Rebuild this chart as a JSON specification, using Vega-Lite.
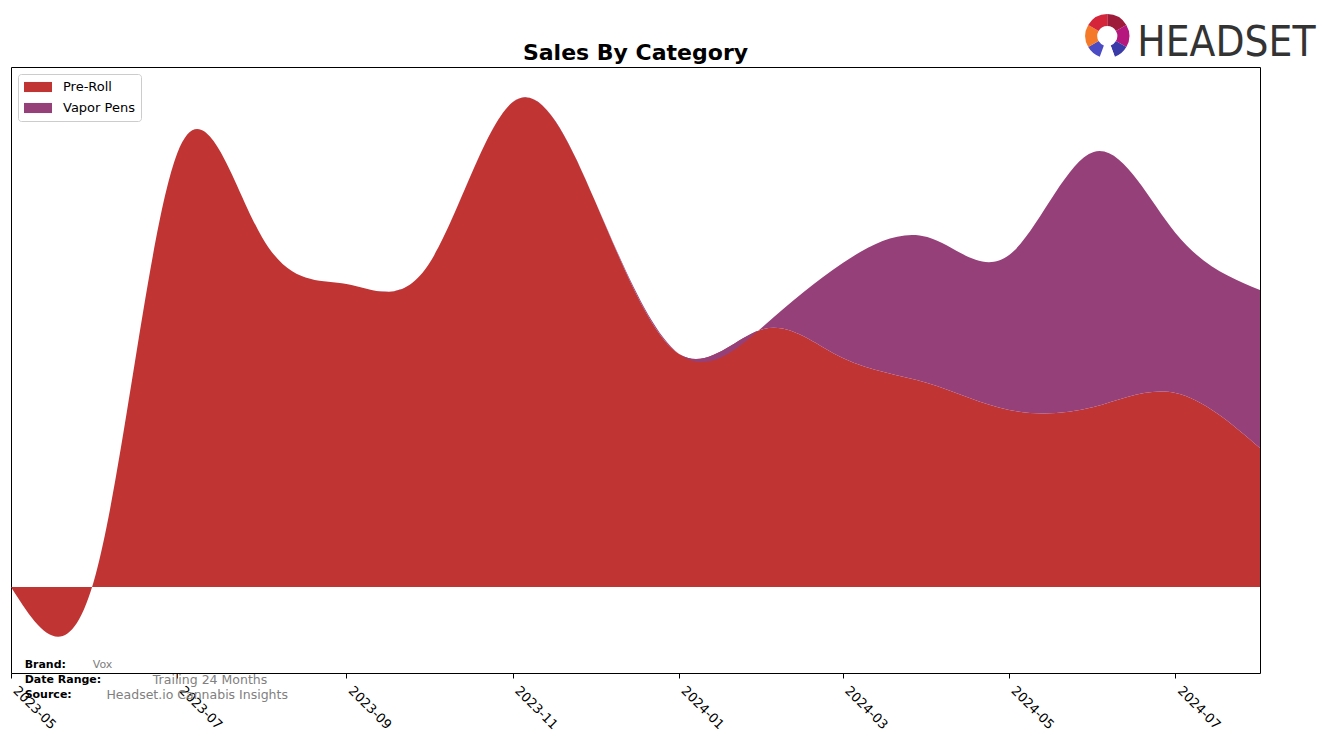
{
  "$schema": "https://vega.github.io/schema/vega-lite/v6.json",
  "width": 1249,
  "height": 606,
  "autosize": "none",
  "padding": {"left": 11, "top": 67, "right": 64, "bottom": 70},
  "background": "white",
  "title": {"text": "Sales By Category", "fontSize": 22, "font": "DejaVu Sans", "fontWeight": "bold", "offset": 6, "dy": 57, "anchor": "middle", "frame": "group", "color": "black"},
  "config": {
    "view": {"stroke": "black", "strokeWidth": 1},
    "font": "DejaVu Sans"
  },
  "data": {
    "values": [
      {"month": "2023-05-01", "category": "Pre-Roll", "sales": 0},
      {"month": "2023-06-01", "category": "Pre-Roll", "sales": 12},
      {"month": "2023-07-01", "category": "Pre-Roll", "sales": 434},
      {"month": "2023-08-01", "category": "Pre-Roll", "sales": 350},
      {"month": "2023-09-01", "category": "Pre-Roll", "sales": 303},
      {"month": "2023-10-01", "category": "Pre-Roll", "sales": 322},
      {"month": "2023-11-01", "category": "Pre-Roll", "sales": 485},
      {"month": "2023-12-01", "category": "Pre-Roll", "sales": 387},
      {"month": "2024-01-01", "category": "Pre-Roll", "sales": 233},
      {"month": "2024-02-01", "category": "Pre-Roll", "sales": 258},
      {"month": "2024-03-01", "category": "Pre-Roll", "sales": 229},
      {"month": "2024-04-01", "category": "Pre-Roll", "sales": 204},
      {"month": "2024-05-01", "category": "Pre-Roll", "sales": 177},
      {"month": "2024-06-01", "category": "Pre-Roll", "sales": 180},
      {"month": "2024-07-01", "category": "Pre-Roll", "sales": 194},
      {"month": "2024-08-01", "category": "Pre-Roll", "sales": 139},
      {"month": "2023-05-01", "category": "Vapor Pens", "sales": 0},
      {"month": "2023-06-01", "category": "Vapor Pens", "sales": 0},
      {"month": "2023-07-01", "category": "Vapor Pens", "sales": 0},
      {"month": "2023-08-01", "category": "Vapor Pens", "sales": 0},
      {"month": "2023-09-01", "category": "Vapor Pens", "sales": 0},
      {"month": "2023-10-01", "category": "Vapor Pens", "sales": 0},
      {"month": "2023-11-01", "category": "Vapor Pens", "sales": 0},
      {"month": "2023-12-01", "category": "Vapor Pens", "sales": 0},
      {"month": "2024-01-01", "category": "Vapor Pens", "sales": 0},
      {"month": "2024-02-01", "category": "Vapor Pens", "sales": 3},
      {"month": "2024-03-01", "category": "Vapor Pens", "sales": 95},
      {"month": "2024-04-01", "category": "Vapor Pens", "sales": 146},
      {"month": "2024-05-01", "category": "Vapor Pens", "sales": 155},
      {"month": "2024-06-01", "category": "Vapor Pens", "sales": 255},
      {"month": "2024-07-01", "category": "Vapor Pens", "sales": 160},
      {"month": "2024-08-01", "category": "Vapor Pens", "sales": 158}
    ]
  },
  "layer": [
    {
      "mark": {"type": "area", "interpolate": "natural"},
      "encoding": {
        "x": {
          "field": "month", "type": "temporal",
          "scale": {"type": "utc", "domain": [{"year": 2023, "month": 5, "date": 1, "utc": true}, {"year": 2024, "month": 8, "date": 1, "utc": true}]},
          "axis": {
            "title": null,
            "values": [
              {"year": 2023, "month": 5, "date": 1, "utc": true},
              {"year": 2023, "month": 7, "date": 1, "utc": true},
              {"year": 2023, "month": 9, "date": 1, "utc": true},
              {"year": 2023, "month": 11, "date": 1, "utc": true},
              {"year": 2024, "month": 1, "date": 1, "utc": true},
              {"year": 2024, "month": 3, "date": 1, "utc": true},
              {"year": 2024, "month": 5, "date": 1, "utc": true},
              {"year": 2024, "month": 7, "date": 1, "utc": true}
            ],
            "format": "%Y-%m",
            "labelAngle": 45, "labelAlign": "left", "labelBaseline": "top",
            "labelFontSize": 13, "labelFont": "DejaVu Sans", "labelColor": "black",
            "labelPadding": 6, "labelOffset": 8,
            "tickSize": 5, "tickColor": "black", "domain": false, "grid": false,
            "labelOverlap": false, "labelFlush": false
          }
        },
        "y": {
          "field": "sales", "type": "quantitative", "stack": "zero",
          "scale": {"domain": [-86, 520], "nice": false, "zero": false},
          "axis": null
        },
        "color": {
          "field": "category", "type": "nominal",
          "scale": {"domain": ["Pre-Roll", "Vapor Pens"], "range": ["#c13434", "#96407a"]},
          "legend": {
            "title": null, "orient": "top-left", "offset": 7,
            "strokeColor": "#cccccc", "fillColor": "white", "padding": 6, "cornerRadius": 3,
            "labelFont": "DejaVu Sans", "labelFontSize": 13, "labelColor": "black", "labelOffset": 25,
            "symbolType": "M-1,-0.72H3V0.72H-1Z", "symbolSize": 196, "symbolStrokeWidth": 0,
            "symbolOpacity": 1, "rowPadding": 7
          }
        },
        "order": {"field": "category", "sort": "ascending"}
      }
    },
    {
      "data": {"values": [{"seg": "a", "v": 60}, {"seg": "b", "v": 60}, {"seg": "c", "v": 40}, {"seg": "d", "v": 40}, {"seg": "e", "v": 40}, {"seg": "f", "v": 60}, {"seg": "g", "v": 60}]},
      "mark": {"type": "arc", "outerRadius": 22, "innerRadius": 10},
      "encoding": {
        "x": {"datum": {"year": 2024, "month": 6, "date": 6, "utc": true}, "type": "temporal"},
        "y": {"datum": 551, "type": "quantitative"},
        "theta": {"field": "v", "type": "quantitative", "stack": true},
        "order": {"field": "seg", "sort": "ascending"},
        "fill": {
          "field": "seg", "type": "nominal", "legend": null,
          "scale": {"domain": ["a", "b", "c", "d", "e", "f", "g"], "range": ["#9e1b3a", "#b5177e", "#3a3aa8", "#ffffff", "#4b4bc4", "#f47a2a", "#d4253a"]}
        }
      }
    },
    {
      "data": {"values": [{}]},
      "mark": {"type": "text", "text": "HEADSET", "font": "DejaVu Sans Condensed, Liberation Sans", "fontSize": 42, "align": "left", "baseline": "alphabetic", "color": "#333333"},
      "encoding": {
        "x": {"datum": {"year": 2024, "month": 6, "date": 17, "utc": true}, "type": "temporal"},
        "y": {"datum": 531, "type": "quantitative"}
      }
    },
    {
      "data": {"values": [{}]},
      "mark": {"type": "text", "text": "Brand:", "fontSize": 11, "fontWeight": "bold", "align": "left", "baseline": "middle", "color": "black"},
      "encoding": {
        "x": {"datum": {"year": 2023, "month": 5, "date": 6, "utc": true}, "type": "temporal"},
        "y": {"datum": -78, "type": "quantitative"}
      }
    },
    {
      "data": {"values": [{}]},
      "mark": {"type": "text", "text": "Vox", "fontSize": 11, "align": "left", "baseline": "middle", "color": "#808080"},
      "encoding": {
        "x": {"datum": {"year": 2023, "month": 5, "date": 31, "utc": true}, "type": "temporal"},
        "y": {"datum": -78, "type": "quantitative"}
      }
    },
    {
      "data": {"values": [{}]},
      "mark": {"type": "text", "text": "Date Range:", "fontSize": 11, "fontWeight": "bold", "align": "left", "baseline": "middle", "color": "black"},
      "encoding": {
        "x": {"datum": {"year": 2023, "month": 5, "date": 6, "utc": true}, "type": "temporal"},
        "y": {"datum": -93, "type": "quantitative"}
      }
    },
    {
      "data": {"values": [{}]},
      "mark": {"type": "text", "text": "Trailing 24 Months", "fontSize": 12.5, "align": "left", "baseline": "middle", "color": "#808080"},
      "encoding": {
        "x": {"datum": {"year": 2023, "month": 6, "date": 22, "utc": true}, "type": "temporal"},
        "y": {"datum": -93, "type": "quantitative"}
      }
    },
    {
      "data": {"values": [{}]},
      "mark": {"type": "text", "text": "Source:", "fontSize": 11, "fontWeight": "bold", "align": "left", "baseline": "middle", "color": "black"},
      "encoding": {
        "x": {"datum": {"year": 2023, "month": 5, "date": 6, "utc": true}, "type": "temporal"},
        "y": {"datum": -108, "type": "quantitative"}
      }
    },
    {
      "data": {"values": [{}]},
      "mark": {"type": "text", "text": "Headset.io Cannabis Insights", "fontSize": 12.5, "align": "left", "baseline": "middle", "color": "#808080"},
      "encoding": {
        "x": {"datum": {"year": 2023, "month": 6, "date": 5, "utc": true}, "type": "temporal"},
        "y": {"datum": -108, "type": "quantitative"}
      }
    }
  ]
}
